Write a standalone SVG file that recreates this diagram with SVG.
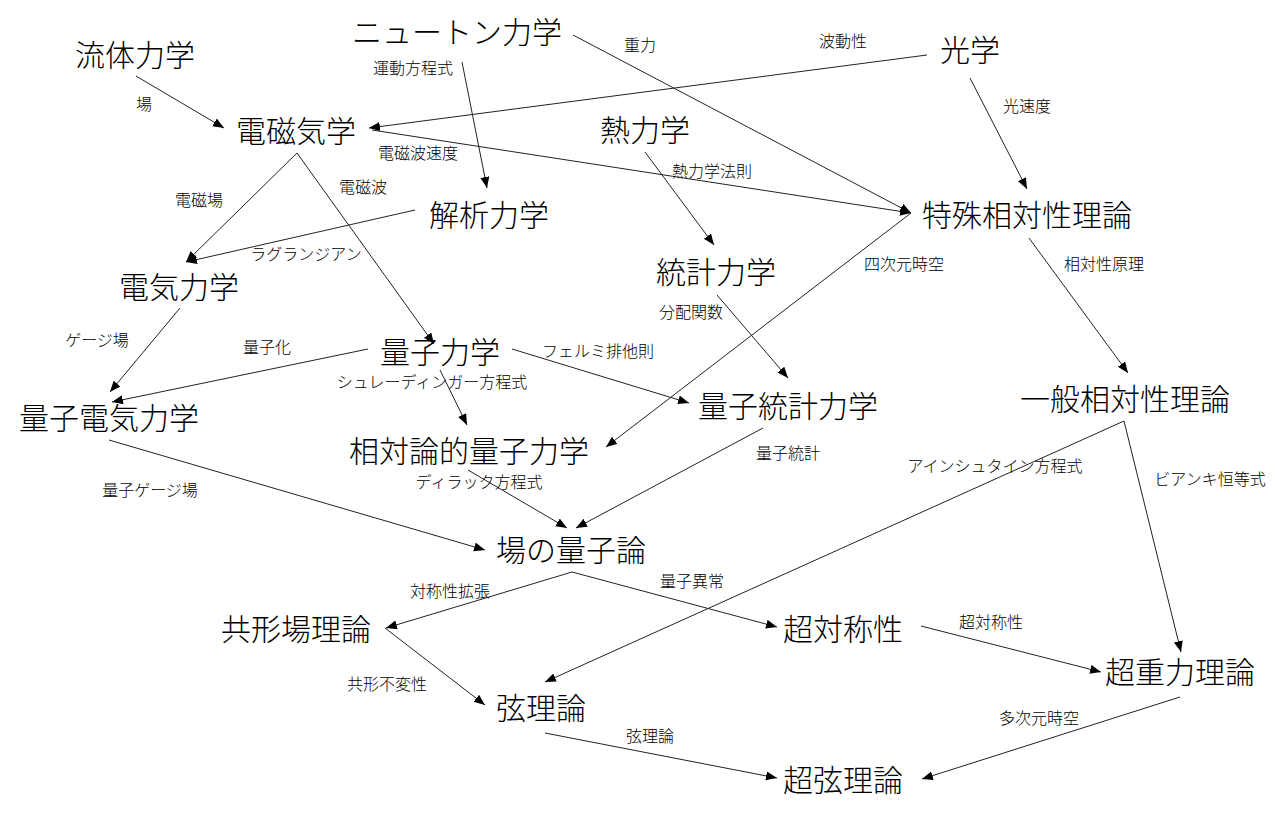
<svg xmlns="http://www.w3.org/2000/svg" width="1280" height="815" viewBox="0 0 1280 815">
<defs>
<marker id="arr" markerUnits="userSpaceOnUse" markerWidth="12" markerHeight="10" refX="11" refY="4.5" orient="auto">
<path d="M0,0 L11,4.5 L0,9 z" fill="#000"/>
</marker>
<style>
.n{font-family:"Noto Sans CJK JP","Noto Sans CJK SC",sans-serif;font-size:30px;font-weight:300;fill:#000;text-anchor:middle;dominant-baseline:central}
.l{font-family:"Noto Sans CJK JP","Noto Sans CJK SC",sans-serif;font-size:16px;font-weight:300;fill:#000;text-anchor:middle;dominant-baseline:central}
.e line{stroke:#222;stroke-width:1;fill:none;marker-end:url(#arr)}
</style>
</defs>
<rect width="1280" height="815" fill="#fff"/>
<g id="connectors" class="e">
<g id="e1"><line x1="136" y1="76" x2="224" y2="128"/><text class="l" x="144" y="103">場</text></g>
<g id="e2"><line x1="462" y1="62" x2="487" y2="188"/><text class="l" x="413" y="67">運動方程式</text></g>
<g id="e3"><line x1="573" y1="35" x2="911" y2="213"/><text class="l" x="640" y="44">重力</text></g>
<g id="e4"><line x1="927" y1="55" x2="369" y2="128"/><text class="l" x="843" y="40">波動性</text></g>
<g id="e5"><line x1="970" y1="78" x2="1027" y2="189"/><text class="l" x="1027" y="105">光速度</text></g>
<g id="e6"><line x1="372" y1="130" x2="911" y2="213"/><text class="l" x="418" y="152">電磁波速度</text></g>
<g id="e7"><line x1="645" y1="152" x2="714" y2="245"/><text class="l" x="712" y="170">熱力学法則</text></g>
<g id="e8"><line x1="297" y1="153" x2="186" y2="262"/><text class="l" x="199" y="199">電磁場</text></g>
<g id="e9"><line x1="297" y1="153" x2="434" y2="344"/><text class="l" x="363" y="186">電磁波</text></g>
<g id="e10"><line x1="415" y1="210" x2="186" y2="262"/><text class="l" x="306" y="253">ラグランジアン</text></g>
<g id="e11"><line x1="1029" y1="238" x2="1128" y2="373"/><text class="l" x="1104" y="263">相対性原理</text></g>
<g id="e12"><line x1="911" y1="213" x2="606" y2="447"/><text class="l" x="904" y="263">四次元時空</text></g>
<g id="e13"><line x1="717" y1="295" x2="788" y2="378"/><text class="l" x="691" y="311">分配関数</text></g>
<g id="e14"><line x1="180" y1="308" x2="110" y2="392"/><text class="l" x="97" y="339">ゲージ場</text></g>
<g id="e15"><line x1="368" y1="349" x2="112" y2="402"/><text class="l" x="267" y="346">量子化</text></g>
<g id="e16"><line x1="440" y1="370" x2="467" y2="425"/><text class="l" x="432" y="381">シュレーディンガー方程式</text></g>
<g id="e17"><line x1="512" y1="349" x2="689" y2="403"/><text class="l" x="598" y="350">フェルミ排他則</text></g>
<g id="e18"><line x1="109" y1="440" x2="485" y2="550"/><text class="l" x="150" y="489">量子ゲージ場</text></g>
<g id="e19"><line x1="468" y1="470" x2="567" y2="528"/><text class="l" x="479" y="481">ディラック方程式</text></g>
<g id="e20"><line x1="763" y1="428" x2="576" y2="528"/><text class="l" x="788" y="452">量子統計</text></g>
<g id="e21"><line x1="1124" y1="421" x2="545" y2="682"/><text class="l" x="995" y="465">アインシュタイン方程式</text></g>
<g id="e22"><line x1="1124" y1="421" x2="1181" y2="652"/><text class="l" x="1210" y="478">ビアンキ恒等式</text></g>
<g id="e23"><line x1="572" y1="572" x2="386" y2="628"/><text class="l" x="450" y="590">対称性拡張</text></g>
<g id="e24"><line x1="572" y1="572" x2="777" y2="627"/><text class="l" x="692" y="580">量子異常</text></g>
<g id="e25"><line x1="385" y1="628" x2="485" y2="705"/><text class="l" x="387" y="683">共形不変性</text></g>
<g id="e26"><line x1="921" y1="626" x2="1101" y2="672"/><text class="l" x="991" y="621">超対称性</text></g>
<g id="e27"><line x1="1180" y1="697" x2="922" y2="779"/><text class="l" x="1039" y="717">多次元時空</text></g>
<g id="e28"><line x1="545" y1="733" x2="777" y2="778"/><text class="l" x="650" y="735">弦理論</text></g>
</g>
<g id="n1"><text class="n" x="457" y="30">ニュートン力学</text></g>
<g id="n2"><text class="n" x="135" y="53">流体力学</text></g>
<g id="n3"><text class="n" x="970" y="48">光学</text></g>
<g id="n4"><text class="n" x="296" y="129">電磁気学</text></g>
<g id="n5"><text class="n" x="645" y="128">熱力学</text></g>
<g id="n6"><text class="n" x="489" y="213">解析力学</text></g>
<g id="n7"><text class="n" x="1027" y="213">特殊相対性理論</text></g>
<g id="n8"><text class="n" x="716" y="270">統計力学</text></g>
<g id="n9"><text class="n" x="179" y="285">電気力学</text></g>
<g id="n10"><text class="n" x="440" y="350">量子力学</text></g>
<g id="n11"><text class="n" x="1125" y="397">一般相対性理論</text></g>
<g id="n12"><text class="n" x="109" y="416">量子電気力学</text></g>
<g id="n13"><text class="n" x="788" y="404">量子統計力学</text></g>
<g id="n14"><text class="n" x="469" y="449">相対論的量子力学</text></g>
<g id="n15"><text class="n" x="571" y="548">場の量子論</text></g>
<g id="n16"><text class="n" x="296" y="627">共形場理論</text></g>
<g id="n17"><text class="n" x="843" y="627">超対称性</text></g>
<g id="n18"><text class="n" x="1180" y="670">超重力理論</text></g>
<g id="n19"><text class="n" x="541" y="706">弦理論</text></g>
<g id="n20"><text class="n" x="843" y="778">超弦理論</text></g>
</svg>
